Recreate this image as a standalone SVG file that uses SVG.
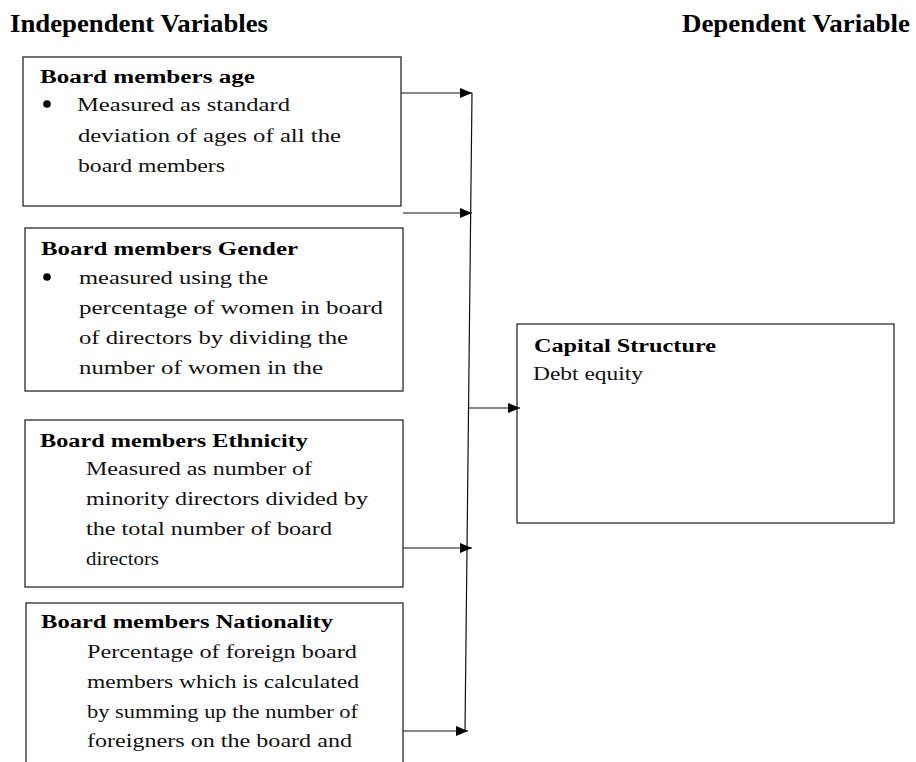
<svg xmlns="http://www.w3.org/2000/svg" width="916" height="762" viewBox="0 0 916 762">
<style>
.head{font-weight:bold;font-size:26px;fill:#000}
.title{font-weight:bold;font-size:18.5px;fill:#000}
.body{font-size:18px;fill:#111}
.box{fill:#fff;stroke:#2a2a2a;stroke-width:1.3}
.conn{fill:none;stroke:#111;stroke-width:1.2}
</style>
<defs>
<marker id="ah" viewBox="0 0 12 10" refX="12" refY="5" markerWidth="12" markerHeight="10" markerUnits="userSpaceOnUse" orient="auto">
<path d="M0,0 L12,5 L0,10 Z" fill="#000"/>
</marker>
</defs>
<rect width="916" height="762" fill="#fff"/>
<g font-family="Liberation Serif, DejaVu Serif, serif">
<text class="head" x="10" y="32" textLength="258" lengthAdjust="spacingAndGlyphs">Independent Variables</text>
<text class="head" x="682" y="32" textLength="228" lengthAdjust="spacingAndGlyphs">Dependent Variable</text>

<g id="age">
<rect class="box" x="23" y="57" width="378" height="149"/>
<text class="title" x="40" y="83" textLength="215" lengthAdjust="spacingAndGlyphs">Board members age</text>
<circle cx="47" cy="104" r="3.8" fill="#000"/>
<text class="body" x="77" y="111" textLength="213" lengthAdjust="spacingAndGlyphs">Measured as standard</text>
<text class="body" x="78" y="142" textLength="263" lengthAdjust="spacingAndGlyphs">deviation  of ages of all the</text>
<text class="body" x="78" y="172" textLength="147" lengthAdjust="spacingAndGlyphs">board members</text>
</g>

<g id="gender">
<rect class="box" x="25" y="228" width="378" height="163"/>
<text class="title" x="41" y="255" textLength="257" lengthAdjust="spacingAndGlyphs">Board members Gender</text>
<circle cx="47" cy="277" r="3.8" fill="#000"/>
<text class="body" x="79" y="284" textLength="189" lengthAdjust="spacingAndGlyphs">measured using the</text>
<text class="body" x="79" y="314" textLength="304" lengthAdjust="spacingAndGlyphs">percentage of women in board</text>
<text class="body" x="79" y="344" textLength="269" lengthAdjust="spacingAndGlyphs">of directors by dividing the</text>
<text class="body" x="79" y="374" textLength="244" lengthAdjust="spacingAndGlyphs">number of women in the</text>
</g>

<g id="ethnicity">
<rect class="box" x="25" y="420" width="378" height="167"/>
<text class="title" x="40" y="447" textLength="268" lengthAdjust="spacingAndGlyphs">Board members Ethnicity</text>
<text class="body" x="86" y="475" textLength="226" lengthAdjust="spacingAndGlyphs">Measured as number of</text>
<text class="body" x="86" y="505" textLength="282" lengthAdjust="spacingAndGlyphs">minority directors divided by</text>
<text class="body" x="86" y="535" textLength="246" lengthAdjust="spacingAndGlyphs">the total number of board</text>
<text class="body" x="86" y="565" textLength="73" lengthAdjust="spacingAndGlyphs">directors</text>
</g>

<g id="nationality">
<rect class="box" x="26" y="603" width="377" height="175"/>
<text class="title" x="41" y="628" textLength="292" lengthAdjust="spacingAndGlyphs">Board members Nationality</text>
<text class="body" x="87" y="658" textLength="270" lengthAdjust="spacingAndGlyphs">Percentage of foreign board</text>
<text class="body" x="87" y="688" textLength="272" lengthAdjust="spacingAndGlyphs">members which is calculated</text>
<text class="body" x="87" y="718" textLength="271" lengthAdjust="spacingAndGlyphs">by summing up the number of</text>
<text class="body" x="87" y="747" textLength="265" lengthAdjust="spacingAndGlyphs">foreigners on the board and</text>
</g>

<g id="capital">
<rect class="box" x="517" y="324" width="377" height="199"/>
<text class="title" x="534" y="352" textLength="182" lengthAdjust="spacingAndGlyphs">Capital Structure</text>
<text class="body" x="533" y="380" textLength="110" lengthAdjust="spacingAndGlyphs">Debt equity</text>
</g>
</g>

<g id="connectors">
<line class="conn" x1="472" y1="93" x2="465" y2="731"/>
<line class="conn" x1="401" y1="93" x2="472" y2="93" marker-end="url(#ah)"/>
<line class="conn" x1="403" y1="213" x2="472" y2="213" marker-end="url(#ah)"/>
<line class="conn" x1="469" y1="408" x2="520" y2="408" marker-end="url(#ah)"/>
<line class="conn" x1="403" y1="548" x2="472" y2="548" marker-end="url(#ah)"/>
<line class="conn" x1="403" y1="731" x2="468" y2="731" marker-end="url(#ah)"/>
</g>
</svg>
